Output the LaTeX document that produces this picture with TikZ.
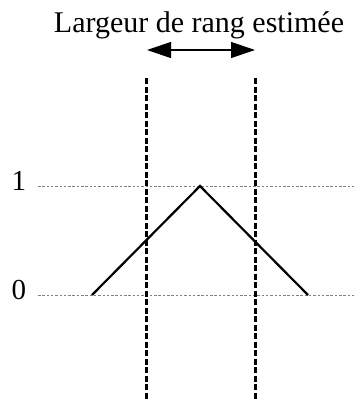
\documentclass[tikz,border=0pt]{standalone}
\usepackage{fontspec}
\setmainfont{Liberation Serif}
\usetikzlibrary{arrows.meta,positioning}

\begin{document}
\begin{tikzpicture}[x=1pt, y=-1pt,
    guide/.style={gray, line width=1pt, dash pattern=on 2.5pt off 1.8pt},
    rangeline/.style={line width=3pt, dash pattern=on 6pt off 2.5pt},
    curve/.style={line width=2.2pt, line join=miter},
    lbl/.style={inner sep=0pt, font=\fontsize{29}{32}\selectfont},
    titre/.style={inner sep=0pt, font=\fontsize{30}{34}\selectfont}]
\useasboundingbox (0,0) rectangle (355,399);
% niveaux 0 et 1
\node[lbl] (un) at (19,181) {1};
\node[lbl] (zero) at (19,290) {0};
\coordinate (g1w) at (38,186);
\coordinate (g1e) at (355,186);
\coordinate (g0w) at (38,295);
\coordinate (g0e) at (355,295);
\draw[guide] (g1w) -- (g1e);
\draw[guide] (g0w) -- (g0e);
% fonction triangulaire
\coordinate (pied1) at (92,295);
\coordinate (sommet) at (200,186);
\coordinate (pied2) at (308,295);
\draw[curve] (pied1) -- (sommet) -- (pied2);
% largeur de rang
\coordinate (gh) at (146,78);
\coordinate (gb) at (146,399);
\coordinate (dh) at (255,78);
\coordinate (db) at (255,399);
\draw[rangeline] (gh) -- (gb);
\draw[rangeline] (dh) -- (db);
\node[titre, anchor=base] (larg) at (199,32) {Largeur de rang estimée};
\coordinate (fg) at (147,50);
\coordinate (fd) at (255,50);
\draw[{Triangle[length=24pt,width=16pt]}-{Triangle[length=24pt,width=16pt]}, line width=1.2pt] (fg) -- (fd);
\end{tikzpicture}
\end{document}
